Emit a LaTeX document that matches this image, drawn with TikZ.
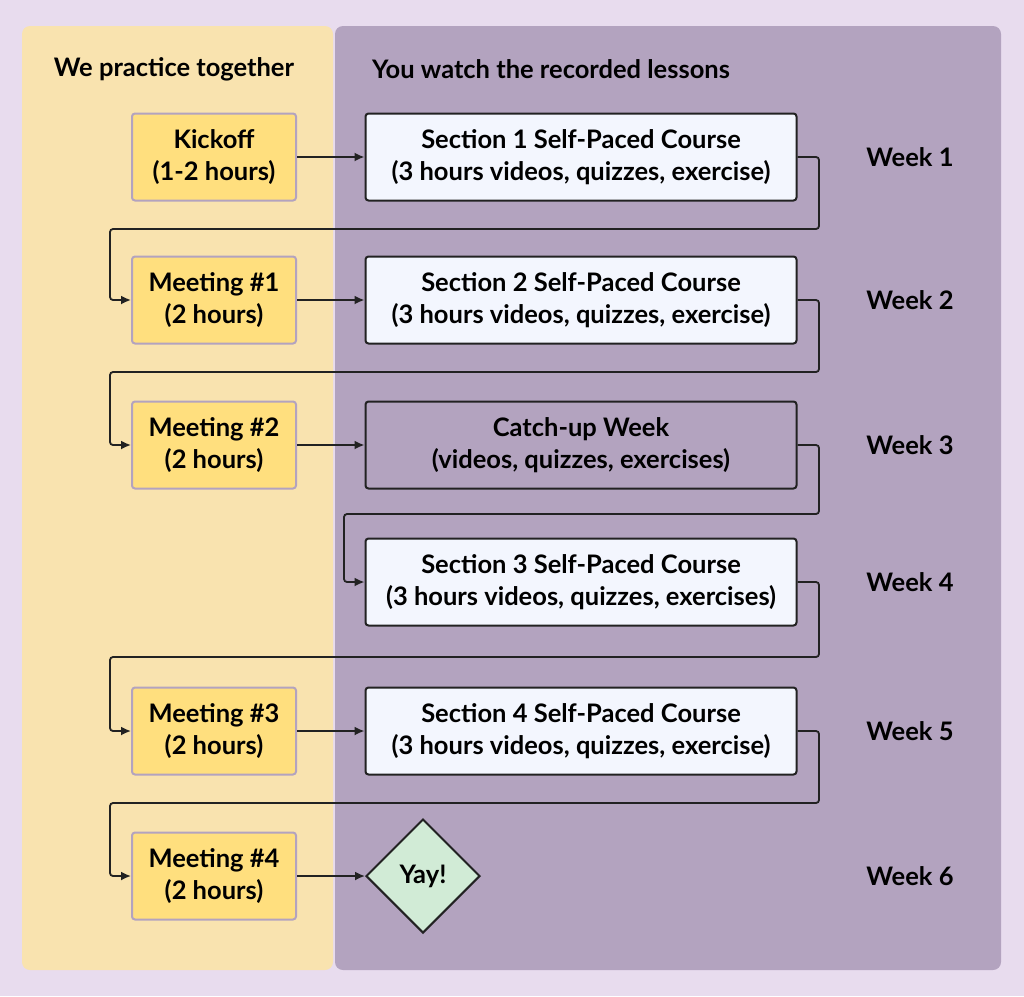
\documentclass[tikz,border=0pt]{standalone}
\usepackage{fontspec}
\setmainfont{Lato}
\usetikzlibrary{shapes.geometric,arrows.meta}
\definecolor{outer}{HTML}{E8DCEE}
\definecolor{leftbg}{HTML}{F9E3AF}
\definecolor{rightbg}{HTML}{B3A3BF}
\definecolor{meet}{HTML}{FFDF7E}
\definecolor{sec}{HTML}{F3F6FE}
\definecolor{dark}{HTML}{222222}
\definecolor{yay}{HTML}{D1EBD6}
\begin{document}
\begin{tikzpicture}[x=1pt,y=-1pt,
  every node/.style={font=\bfseries\fontsize{25.5}{32}\selectfont,align=center,text=black},
  meet/.style={draw=rightbg,line width=2pt,fill=meet,rounded corners=3pt,minimum width=164pt,minimum height=87pt,inner sep=0pt},
  sec/.style={draw=dark,line width=2pt,fill=sec,rounded corners=3pt,minimum width=431pt,minimum height=87pt,inner sep=0pt},
  arr/.style={draw=dark,line width=1.8pt,-{Latex[length=10pt,width=9pt]},rounded corners=3pt},
  week/.style={anchor=center}]
\fill[outer] (0,0) rectangle (1024,996);
\fill[leftbg,rounded corners=8pt] (22,26) rectangle (333,970);
\fill[rightbg,rounded corners=8pt] (335,26) rectangle (1001,970);
\node (h1) at (174,69) {We practice together};
\node (h2) at (551,69) {You watch the recorded lessons};
\node[meet] (k) at (214,157) {Kickoff\\(1-2 hours)};
\node[meet] (m1) at (214,300) {Meeting \#1\\(2 hours)};
\node[meet] (m2) at (214,445) {Meeting \#2\\(2 hours)};
\node[meet] (m3) at (214,731) {Meeting \#3\\(2 hours)};
\node[meet] (m4) at (214,876) {Meeting \#4\\(2 hours)};
\node[sec] (s1) at (581,157) {Section 1 Self-Paced Course\\(3 hours videos, quizzes, exercise)};
\node[sec] (s2) at (581,300) {Section 2 Self-Paced Course\\(3 hours videos, quizzes, exercise)};
\node[sec,fill=rightbg] (c) at (581,445) {Catch-up Week\\(videos, quizzes, exercises)};
\node[sec] (s3) at (581,582) {Section 3 Self-Paced Course\\(3 hours videos, quizzes, exercises)};
\node[sec] (s4) at (581,731) {Section 4 Self-Paced Course\\(3 hours videos, quizzes, exercise)};
\node[diamond,draw=dark,line width=2pt,fill=yay,minimum width=114pt,minimum height=114pt,inner sep=0pt] (y) at (423,876) {Yay!};
\node (w1) at (910,157) {Week 1};
\node (w2) at (910,300) {Week 2};
\node (w3) at (910,445) {Week 3};
\node (w4) at (910,582) {Week 4};
\node (w5) at (910,731) {Week 5};
\node (w6) at (910,876) {Week 6};
\draw[arr] (k) -- (s1);
\draw[arr] (m1) -- (s2);
\draw[arr] (m2) -- (c);
\draw[arr] (m3) -- (s4);
\draw[arr] (m4) -- (y);
\draw[arr] (s1.east) -- (819,157) -- (819,229) -- (110,229) -- (110,300) -- (m1.west);
\draw[arr] (s2.east) -- (819,300) -- (819,372) -- (110,372) -- (110,445) -- (m2.west);
\draw[arr] (c.east) -- (819,445) -- (819,514) -- (344,514) -- (344,582) -- (s3.west);
\draw[arr] (s3.east) -- (819,582) -- (819,657) -- (110,657) -- (110,731) -- (m3.west);
\draw[arr] (s4.east) -- (819,731) -- (819,803) -- (110,803) -- (110,876) -- (m4.west);
\end{tikzpicture}
\end{document}
